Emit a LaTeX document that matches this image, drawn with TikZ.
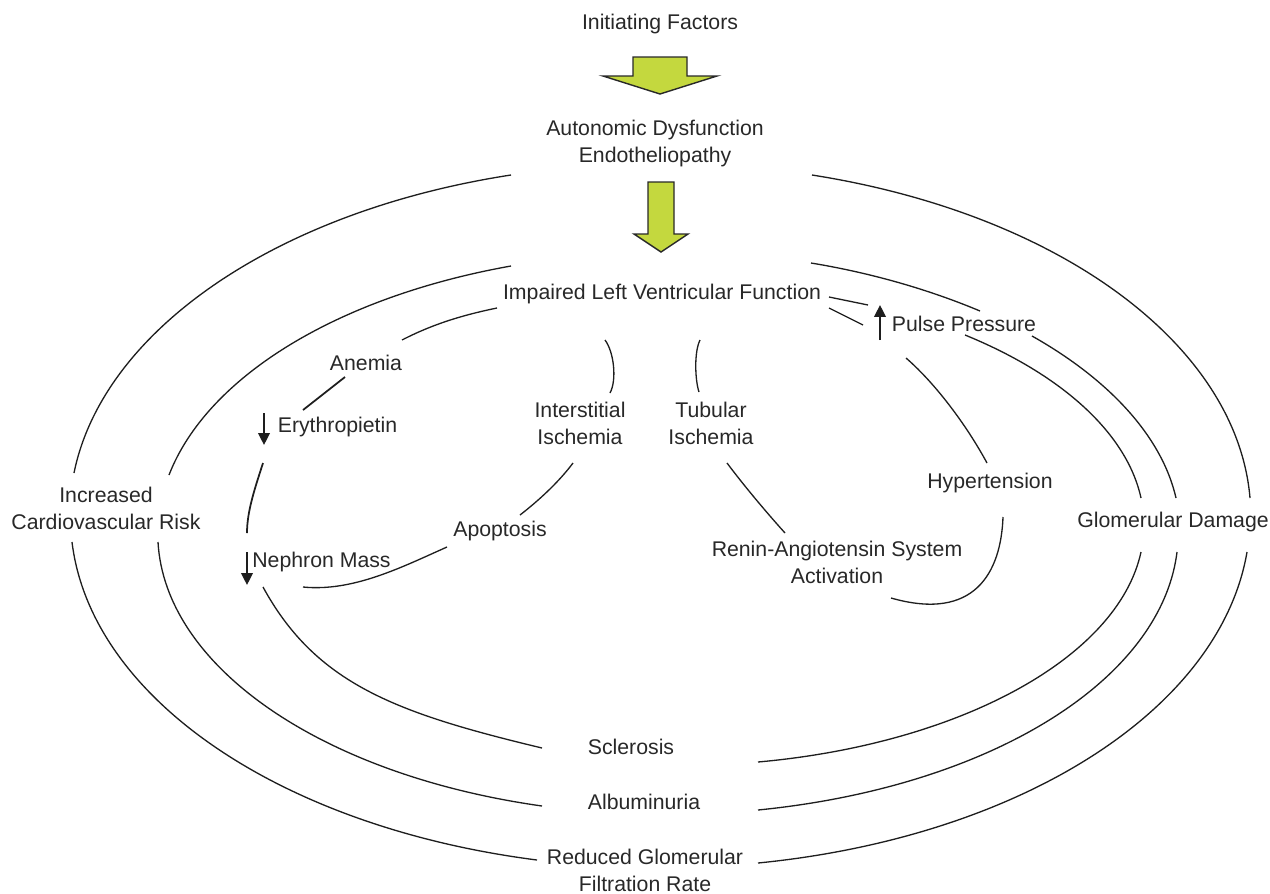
\documentclass[tikz,border=0pt]{standalone}
\usepackage{fontspec}
\setmainfont{Liberation Sans}
\usepackage{tikz}
\usetikzlibrary{calc,arrows.meta}
\definecolor{LimeGreen}{RGB}{196,216,62}
\definecolor{InkGray}{RGB}{40,40,40}
\definecolor{EdgeGray}{RGB}{30,30,30}
\tikzset{
	lbl/.style={text=InkGray,font=\fontsize{12.1}{15.4}\selectfont,align=center,inner sep=0pt},
	link/.style={draw=EdgeGray,line width=0.75pt},
	updown/.style={draw=EdgeGray,line width=1.15pt,-{Triangle[length=6.8pt,width=6.6pt]}},
	fatarrow/.style={fill=LimeGreen,draw=InkGray,line width=0.8pt,line join=miter},
}
\begin{document}
\begin{tikzpicture}[x=0.02cm,y=0.02cm]
					\useasboundingbox (0,0) rectangle (1270,-893);
					\node[lbl] (init) at (660,-24) {Initiating Factors};
					\node[lbl] (auto) at (655,-143.5) {Autonomic Dysfunction\\Endotheliopathy};
					\node[lbl] (lvf) at (662,-294) {Impaired Left Ventricular Function};
					\node[lbl] (anemia) at (366,-363) {Anemia};
					\node[lbl] (ery) at (337.5,-427) {Erythropietin};
					\node[lbl] (inter) at (580,-423.5) {Interstitial\\Ischemia};
					\node[lbl] (tub) at (711,-423.5) {Tubular\\Ischemia};
					\node[lbl] (pp) at (964,-324) {Pulse Pressure};
					\node[lbl] (hyp) at (990,-483) {Hypertension};
					\node[lbl] (cvr) at (106,-508) {Increased\\Cardiovascular Risk};
					\node[lbl] (gd) at (1173,-522) {Glomerular Damage};
					\node[lbl] (apo) at (500,-531) {Apoptosis};
					\node[lbl] (neph) at (321.5,-562) {Nephron Mass};
					\node[lbl] (ras) at (837,-562) {Renin-Angiotensin System\\Activation};
					\node[lbl] (scl) at (631,-747) {Sclerosis};
					\node[lbl] (alb) at (644,-802) {Albuminuria};
					\node[lbl] (rgfr) at (645,-870) {Reduced Glomerular\\Filtration Rate};
					\coordinate (tipA) at (660,-94);
					\coordinate (tipB) at (661,-252);
					\draw[fatarrow] (tipA) -- ++(57,18) -- ++(-30,0) -- ++(0,19) -- ++(-54,0) -- ++(0,-19) -- ++(-30,0) -- cycle;
					\draw[fatarrow] (tipB) -- ++(27,18) -- ++(-14,0) -- ++(0,52) -- ++(-26,0) -- ++(0,-52) -- ++(-14,0) -- cycle;
					\draw[link] ($(auto)+(-144,-31.5)$) .. controls +(-234,-36) and +(29,143) .. ($(cvr)+(-32,35)$);
					\draw[link] ($(cvr)+(-34,-34)$) .. controls +(19,-156) and +(-257,33) .. ($(rgfr)+(-108,10)$);
					\draw[link] ($(rgfr)+(113,7)$) .. controls +(262,26) and +(-27,-158) .. ($(gd)+(74,-30)$);
					\draw[link] ($(auto)+(157,-31.5)$) .. controls +(248,-39) and +(-13,153) .. ($(gd)+(77,24)$);
					\draw[link] ($(lvf)+(-151,28)$) .. controls +(-174,-31) and +(38,98) .. ($(cvr)+(63,33)$);
					\draw[link] ($(cvr)+(52,-34)$) .. controls +(7,-125) and +(-220,31) .. ($(alb)+(-102,-4)$);
					\draw[link] ($(alb)+(114,-8)$) .. controls +(231,23) and +(-16,-129) .. ($(gd)+(4,-30)$);
					\draw[link] ($(lvf)+(149,31)$) .. controls +(61,-10) and +(-50,21) .. ($(pp)+(16,13)$);
					\draw[link] ($(pp)+(68,-12)$) .. controls +(78,-44) and +(-14,61) .. ($(gd)+(3,24)$);
					\draw[link] ($(pp)+(1,-11)$) .. controls +(98,-40) and +(-14,64) .. ($(gd)+(-32,24)$);
					\draw[link] ($(gd)+(-32,-30)$) .. controls +(-23,-106) and +(201,18) .. ($(scl)+(127,-15)$);
					\draw[link] ($(neph)+(-58.5,-25)$) .. controls +(53,-97) and +(-146,35) .. ($(scl)+(-89,-1)$);
					\draw[link] ($(lvf)+(-165,-14)$) .. controls +(-34,-7) and +(31,16) .. ($(anemia)+(36,23)$);
					\draw[link,line width=1pt] ($(anemia)+(-21,-14)$) -- ($(ery)+(-34.5,17)$);
					\draw[link,line width=1pt] ($(ery)+(-74.5,-36)$) .. controls +(-8,-25) and +(0,22) .. ($(neph)+(-74.5,29)$);
					\draw[link] ($(neph)+(-18.5,-25)$) .. controls +(50,-5) and +(-45,-20) .. ($(apo)+(-53,-16)$);
					\draw[link] ($(apo)+(20,16)$) .. controls +(18,14) and +(-15,-20) .. ($(inter)+(-7,-39.5)$);
					\draw[link] ($(inter)+(30,30.5)$) .. controls +(7,13) and +(9,-12) .. ($(lvf)+(-57,-46)$);
					\draw[link] ($(tub)+(-12,31.5)$) .. controls +(-4,12) and +(-6,-12) .. ($(lvf)+(38,-46)$);
					\draw[link] ($(tub)+(16,-39.5)$) .. controls +(18,-24) and +(-18,20) .. ($(ras)+(-52,29)$);
					\draw[link] ($(ras)+(54,-36)$) .. controls +(84,-24) and +(-2,-55) .. ($(hyp)+(13,-34)$);
					\draw[link] ($(hyp)+(-3,20)$) .. controls +(-20,37) and +(30,-26) .. ($(pp)+(-58,-34)$);
					\draw[link] ($(lvf)+(167,-3)$) -- ($(pp)+(-96,19)$);
					\draw[link] ($(lvf)+(167,-14)$) -- ($(pp)+(-101,-1)$);
					\draw[updown] ($(pp)+(-84,-16)$) -- ($(pp)+(-84,19)$);
					\draw[updown] ($(ery)+(-73.5,14)$) -- ($(ery)+(-73.5,-18)$);
					\draw[updown] ($(neph)+(-74.5,10)$) -- ($(neph)+(-74.5,-23)$);
				\end{tikzpicture}
\end{document}
